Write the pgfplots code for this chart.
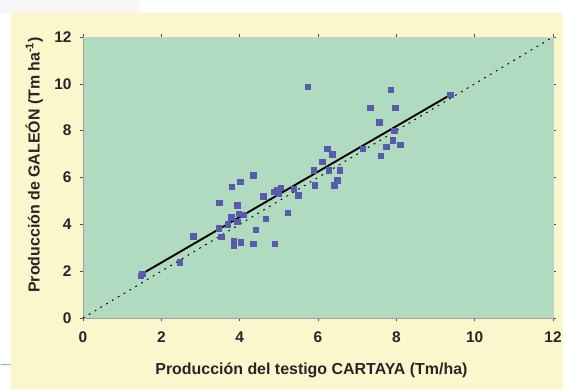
\documentclass[border=0pt]{standalone}
\usepackage{pgfplots}
\pgfplotsset{compat=1.18}
\usepackage{fontspec}
\setmainfont{Liberation Sans}
\definecolor{bgyellow}{RGB}{250,247,205}
\definecolor{plotgreen}{RGB}{176,219,192}
\definecolor{markblue}{RGB}{90,90,170}
\begin{document}
\begin{tikzpicture}[x=1bp,y=1bp]
\path[use as bounding box] (0,0) rectangle (563,389);
\fill[gray!6] (0,376) rectangle (140,389);
\fill[bgyellow] (11,0) rectangle (563,376);
\draw[teal!50, line width=0.8pt] (1,25) -- (11,25);
\begin{axis}[
  at={(83bp,71bp)}, anchor=south west,
  scale only axis, width=470bp, height=281bp,
  xmin=0, xmax=12, ymin=0, ymax=12,
  xtick={0,2,...,12}, ytick={0,2,...,12},
  axis background/.style={fill=plotgreen},
  axis line style={draw=gray!75, line width=0.8pt},
  tick align=outside, major tick length=3bp,
  tick style={black!70, line width=0.6pt},
  ticklabel style={font=\fontsize{15.5}{15.5}\selectfont\bfseries, black!85},
  xticklabel style={yshift=-7bp},
  yticklabel style={xshift=-5bp},
  /pgf/number format/assume math mode=true,
  xlabel={Producción del testigo CARTAYA (Tm/ha)},
  ylabel={Producción de GALEÓN (Tm ha\textsuperscript{-1})},
  label style={font=\fontsize{16}{18}\selectfont\bfseries, black!85},
  xlabel style={at={(axis description cs:0.486,-0.185)}, anchor=center},
  ylabel style={at={(axis description cs:-0.104,0.545)}, anchor=center},
  clip=false,
]
\addplot[only marks, mark=square*, mark size=2.7bp, draw=markblue, fill=markblue] coordinates {
(1.51,1.88) (1.48,1.80) (2.47,2.39) (2.81,3.50) (3.48,4.93) (3.53,3.46) (3.46,3.84)
(3.80,5.60) (4.01,5.81) (4.35,6.10) (3.94,4.81) (3.78,4.31) (3.98,4.46) (3.94,4.10)
(3.85,3.31) (3.85,3.10) (4.03,3.24) (4.35,3.17) (4.41,3.77) (4.67,4.24) (4.60,5.21)
(4.90,3.17) (4.95,5.46) (5.04,5.56) (4.88,5.40) (5.22,4.50) (5.38,5.53) (5.49,5.24)
(5.74,9.89) (5.89,6.31) (5.92,5.67) (6.11,6.67) (6.23,7.24) (6.36,6.99) (6.27,6.31)
(6.49,5.89) (6.41,5.67) (6.55,6.31) (7.14,7.24) (7.33,8.99) (7.56,8.36) (7.60,6.93)
(7.74,7.31) (7.86,9.74) (7.90,7.60) (7.95,7.99) (7.97,8.99) (8.10,7.41) (9.37,9.53)
(3.70,4.00) (4.10,4.40) (5.00,5.30)
};
\addplot[black, line width=1pt, dash pattern=on 1.8pt off 5pt] coordinates {(0,0) (12,12)};
\addplot[black, line width=1.9pt] coordinates {(1.5,1.88) (9.4,9.55)};
\draw[gray!40, line width=0.8pt] (axis cs:12,0) -- (axis cs:12,12) -- (axis cs:0,12);
\end{axis}
\end{tikzpicture}
\end{document}
